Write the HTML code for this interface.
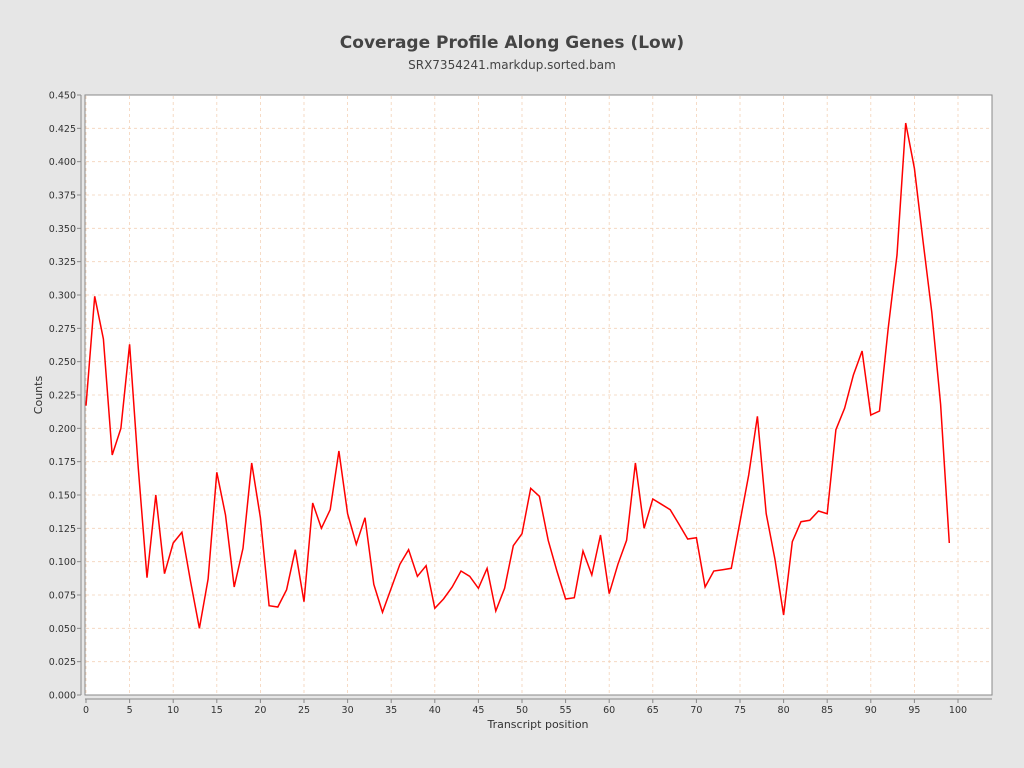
<!DOCTYPE html>
<html><head><meta charset="utf-8"><style>
body{margin:0;background:#e6e6e6;}
svg{display:block;font-family:"DejaVu Sans","Liberation Sans",sans-serif;}
</style></head><body>
<svg id="s" width="1024" height="768" xmlns="http://www.w3.org/2000/svg">
<rect width="1024" height="768" fill="#e6e6e6"/>
<text x="512" y="48" text-anchor="middle" font-size="17" font-weight="bold" fill="#444">Coverage Profile Along Genes (Low)</text>
<text x="512" y="69" text-anchor="middle" font-size="12" fill="#444">SRX7354241.markdup.sorted.bam</text>
<rect x="85" y="95" width="907" height="600" fill="#fff" stroke="#888" stroke-width="1"/>
<g id="grid"></g>
<line x1="81" y1="95" x2="81" y2="695" stroke="#888"/>
<line x1="85" y1="699" x2="992" y2="699" stroke="#888"/>
<g id="ticks" font-size="9.5" fill="#333"></g>
<polyline id="line" fill="none" stroke="#ff0000" stroke-width="1.5"/>
<text x="538" y="728" text-anchor="middle" font-size="11" fill="#333">Transcript position</text>
<text transform="translate(42,395) rotate(-90)" text-anchor="middle" font-size="11" fill="#333">Counts</text>
</svg>
<script>
var d=[0.217,0.299,0.267,0.180,0.200,0.263,0.170,0.088,0.150,0.091,0.114,0.122,0.085,0.050,0.087,0.167,0.135,0.081,0.110,0.174,0.133,0.067,0.066,0.079,0.109,0.070,0.144,0.125,0.139,0.183,0.136,0.113,0.133,0.083,0.062,0.080,0.098,0.109,0.089,0.097,0.065,0.072,0.081,0.093,0.089,0.080,0.095,0.063,0.080,0.112,0.121,0.155,0.149,0.116,0.093,0.072,0.073,0.108,0.090,0.120,0.076,0.098,0.116,0.174,0.125,0.147,0.143,0.139,0.128,0.117,0.118,0.081,0.093,0.094,0.095,0.130,0.165,0.209,0.136,0.102,0.060,0.115,0.130,0.131,0.138,0.136,0.199,0.215,0.240,0.258,0.210,0.213,0.275,0.330,0.429,0.395,0.340,0.287,0.218,0.114];
function X(i){return 86+i*8.72;}function Y(v){return 695-v/0.45*600;}
var ns="http://www.w3.org/2000/svg",g=document.getElementById('grid'),t=document.getElementById('ticks');
function el(p,n,a,txt){var e=document.createElementNS(ns,n);for(var k in a)e.setAttribute(k,a[k]);if(txt!==undefined)e.textContent=txt;p.appendChild(e);}
for(var i=0;i<=100;i+=5){var x=X(i);el(g,'line',{x1:x,y1:96,x2:x,y2:694,stroke:'#f3d2b8','stroke-dasharray':'3,3','stroke-width':0.8});el(t,'line',{x1:x,y1:699,x2:x,y2:703,stroke:'#888'});el(t,'text',{x:x,y:713,'text-anchor':'middle'},String(i));}
for(var j=0;j<=18;j++){var v=j*0.025,y=Y(v);if(j>0&&j<18)el(g,'line',{x1:86,y1:y,x2:991,y2:y,stroke:'#f3d2b8','stroke-dasharray':'3,3','stroke-width':0.8});el(t,'line',{x1:77,y1:y,x2:81,y2:y,stroke:'#888'});el(t,'text',{x:76,y:y+3.5,'text-anchor':'end'},v.toFixed(3));}
document.getElementById('line').setAttribute('points',d.map(function(v,i){return X(i).toFixed(1)+','+Y(v).toFixed(1);}).join(' '));
</script>
</body></html>
